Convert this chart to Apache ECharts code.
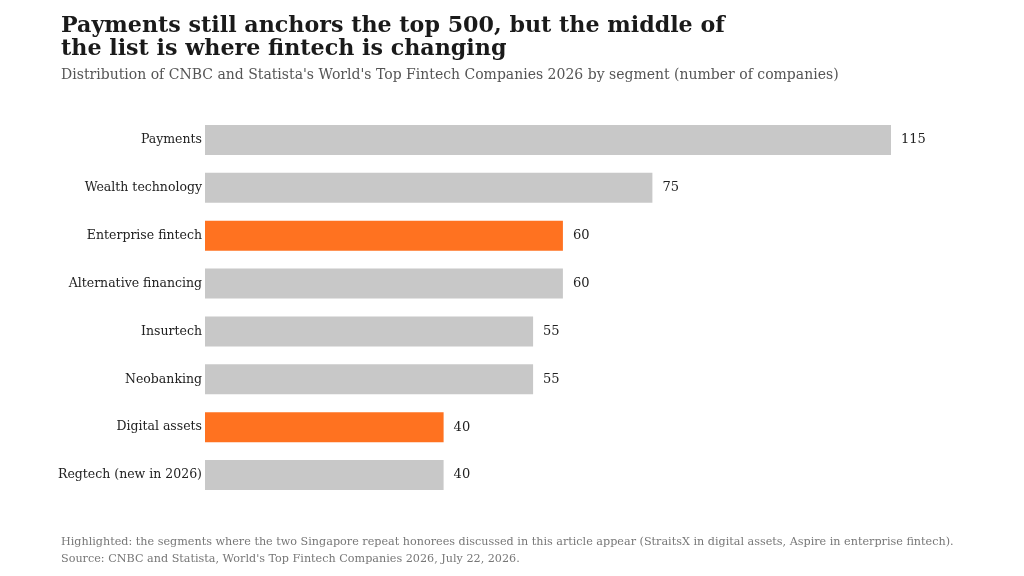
<!DOCTYPE html>
<html>
<head>
<meta charset="UTF-8"/>
<title>Top fintech segments</title>
<script src="https://cdn.jsdelivr.net/npm/echarts@6/dist/echarts.min.js"></script>
<style>
html, body { margin: 0; padding: 0; background: #fff; }
#chart { width: 1024px; height: 576px; }
</style>
</head>
<body>
<div id="chart"></div>
<script>
// segments, top to bottom as shown
var segments = ['Payments', 'Wealth technology', 'Enterprise fintech', 'Alternative financing',
  'Insurtech', 'Neobanking', 'Digital assets', 'Regtech (new in 2026)'];
var companies = [115, 75, 60, 60, 55, 55, 40, 40];
// segments where the Singapore honorees appear
var highlighted = ['Enterprise fintech', 'Digital assets'];

var serif = 'DejaVu Serif';
var chart = echarts.init(document.getElementById('chart'));

var barData = companies.map(function (v, i) {
  var hot = highlighted.indexOf(segments[i]) >= 0;
  return { value: v, itemStyle: { color: hot ? '#ff7220' : '#c8c8c8' } };
});

chart.setOption({
  backgroundColor: '#ffffff',
  animation: false,
  title: [
    {
      text: 'Payments still anchors the top 500, but the middle of\nthe list is where fintech is changing',
      left: 56, top: 10,
      textStyle: { fontFamily: serif, fontSize: 22.2, fontWeight: 'bold', color: '#1a1a1a', lineHeight: 23 }
    },
    {
      text: "Distribution of CNBC and Statista's World's Top Fintech Companies 2026 by segment (number of companies)",
      left: 56, top: 63,
      textStyle: { fontFamily: serif, fontSize: 14, fontWeight: 'normal', color: '#555555' }
    },
    {
      text: 'Highlighted: the segments where the two Singapore repeat honorees discussed in this article appear (StraitsX in digital assets, Aspire in enterprise fintech).\nSource: CNBC and Statista, World\'s Top Fintech Companies 2026, July 22, 2026.',
      left: 56, top: 529,
      textStyle: { fontFamily: serif, fontSize: 11.2, fontWeight: 'normal', color: '#777777', lineHeight: 17 }
    }
  ],
  grid: { left: 205, right: 133, top: 116, height: 383 },
  xAxis: {
    type: 'value', min: 0, max: 115,
    show: false
  },
  yAxis: {
    type: 'category',
    inverse: true,
    data: segments,
    axisLine: { show: false },
    axisTick: { show: false },
    axisLabel: { fontFamily: serif, fontSize: 12.5, color: '#222222', margin: 3, padding: [3, 0, 0, 0] }
  },
  series: [{
    type: 'bar',
    data: barData,
    barWidth: 30,
    label: {
      show: true, position: 'right', distance: 10,
      fontFamily: serif, fontSize: 13, color: '#222222'
    }
  }]
});
</script>
</body>
</html>
